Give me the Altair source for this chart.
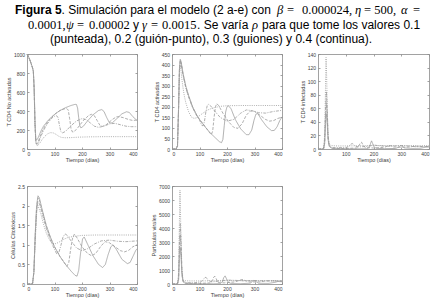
import altair as alt
import pandas as pd

W, H = 438, 305
RHO = ["0.1", "0.2", "0.3", "0.4"]
DASH = [[1, 1.2], [3, 1.2, 1, 1.2], [3, 1.5], [1, 0]]
XTICKS = [0, 100, 200, 300, 400]
SANS = "Liberation Sans"
SERIF = "Liberation Serif"
LINE = "#9a9a9a"
FRAME = "#8a8a8a"
TXT = "#404040"

# ---------------- Panel 1: T CD4 No activadas ----------------
P1_T = {
    "0.4": [0,5,10,15,20,23,26,29,32,35,40,50,60,75,90,105,120,140,160,175,180,184,188,192,196,205,220,240,260,272,280,290,300,310,325,345,362,372,385,400],
    "0.3": [0,5,10,15,20,23,26,29,32,36,40,50,60,75,90,105,120,135,145,150,155,160,165,170,185,205,225,235,245,255,265,275,290,310,325,335,350,370,385,400],
    "0.2": [0,5,10,15,20,23,26,29,32,36,40,50,60,75,90,100,108,113,118,123,128,140,160,180,200,215,230,245,260,280,300,320,340,360,380,400],
    "0.1": [0,5,10,15,20,23,26,29,33,38,45,55,65,75,85,95,105,115,125,140,160,190,230,280,340,400],
}
P1_V = {
    "0.4": [1000,975,940,900,855,820,650,300,95,95,115,185,240,295,340,375,405,435,458,470,468,430,330,245,222,240,295,360,405,415,395,330,275,275,315,370,392,385,340,300],
    "0.3": [1000,975,940,900,855,820,640,280,80,55,70,150,215,285,335,375,405,422,425,410,320,215,180,178,225,300,355,365,350,300,250,238,260,310,338,340,330,310,300,305],
    "0.2": [1000,975,940,900,855,820,630,260,70,45,55,130,195,270,325,345,350,330,250,185,168,185,245,295,320,310,275,240,228,240,265,270,255,240,235,235],
    "0.1": [1000,975,940,900,855,820,620,240,60,35,55,100,135,160,172,170,155,135,122,118,120,125,128,130,130,130],
}

# ---------------- Panel 2: T CD4 activadas ----------------
P2_T = {
    "0.4": [0,15,20,24,27,30,33,40,50,60,75,90,100,120,140,160,172,180,185,190,195,200,205,215,230,250,270,280,290,298,305,312,325,345,362,372,382,392,400],
    "0.3": [0,15,20,24,27,30,33,40,50,60,75,90,100,120,135,143,148,153,158,163,170,185,205,225,240,255,270,285,300,320,340,355,370,385,400],
    "0.2": [0,15,20,24,27,30,33,40,50,60,75,90,100,108,113,118,123,128,133,140,155,175,200,225,250,270,290,315,340,370,400],
    "0.1": [0,15,20,24,27,29,32,36,40,45,50,60,70,80,90,100,115,130,150,175,200,250,300,350,400],
}
P2_V = {
    "0.4": [0,0,15,200,380,425,415,360,300,255,200,160,140,105,75,50,35,30,45,110,175,200,205,190,140,95,68,68,90,135,165,168,140,105,87,88,105,135,152],
    "0.3": [0,0,15,200,375,420,410,355,295,252,198,160,140,108,80,68,85,150,200,215,205,170,130,102,98,120,160,180,178,160,140,132,135,145,150],
    "0.2": [0,0,15,195,370,415,405,350,290,248,195,158,138,112,110,130,175,205,212,205,180,150,132,140,170,185,182,172,170,178,183],
    "0.1": [0,0,15,190,360,400,380,330,290,250,220,178,152,145,148,158,172,185,195,202,205,206,206,206,206],
}

# ---------------- Panel 3: T CD4 infectadas ----------------
P3_T = {
    "0.4": [0,20,24,27,30,33,36,40,50,100,150,180,186,190,193,197,202,210,240,280,292,298,304,312,340,370,380,390,400],
    "0.3": [0,20,24,27,30,33,36,40,50,100,140,148,153,157,162,170,200,240,255,262,270,300,330,345,355,370,400],
    "0.2": [0,20,24,27,30,33,36,40,50,100,112,118,123,128,135,150,180,200,215,250,280,300,320,350,400],
    "0.1": [0,20,24,27,29,31,34,37,42,50,70,100,150,200,300,400],
}
P3_V = {
    "0.4": [0,0,8,35,52,40,15,4,1,0.3,0.3,0.5,3,9,12,8,3,1,0.5,0.8,3,5,4,1.5,0.8,1,2,3,3],
    "0.3": [0,0,10,45,68,50,18,5,1,0.8,1.5,5,9,10,6,2,1.5,2.5,5,5,3,2.5,3,4,4,3.5,3.5],
    "0.2": [0,0,12,55,85,62,22,6,2,2,4,7,8,7,4,3,4,6,5,4,4.5,5,4.5,3.5,3.5],
    "0.1": [0,0,20,90,135,110,50,15,6,5,4.5,4.5,4.8,5,5,5],
}

# ---------------- Panel 4: Celulas Citotoxicas ----------------
P4_T = {
    "0.4": [0,20,25,30,35,40,45,55,70,85,100,120,140,160,175,182,188,195,202,208,220,240,260,275,285,295,305,313,325,345,365,375,385,395,400],
    "0.3": [0,20,25,30,35,40,45,55,70,85,100,120,135,145,152,158,165,172,180,200,220,235,250,270,285,300,320,340,355,370,385,400],
    "0.2": [0,20,25,30,35,40,45,55,70,85,100,108,115,122,130,138,145,160,180,200,220,245,270,300,330,360,400],
    "0.1": [0,20,25,30,35,40,50,60,70,80,90,100,115,130,150,175,200,250,300,400],
}
P4_V = {
    "0.4": [0,0,0.3,1.3,2.0,2.25,2.2,1.9,1.5,1.2,0.95,0.7,0.5,0.33,0.22,0.2,0.35,0.8,1.15,1.2,1.02,0.72,0.5,0.42,0.5,0.75,0.95,1.0,0.88,0.63,0.52,0.55,0.7,0.85,0.9],
    "0.3": [0,0,0.3,1.25,1.95,2.2,2.15,1.87,1.48,1.18,0.95,0.7,0.55,0.45,0.55,0.85,1.15,1.27,1.2,0.95,0.78,0.72,0.78,0.98,1.08,1.05,0.95,0.85,0.82,0.86,0.95,1.0],
    "0.2": [0,0,0.3,1.2,1.9,2.1,2.05,1.8,1.42,1.12,0.88,0.77,0.78,0.95,1.18,1.28,1.25,1.1,0.92,0.85,0.9,1.02,1.1,1.12,1.09,1.08,1.1],
    "0.1": [0,0,0.3,1.1,1.8,2.0,1.8,1.52,1.3,1.15,1.05,1.02,1.06,1.13,1.19,1.22,1.24,1.25,1.25,1.25],
}

# ---------------- Panel 5: Particulas virales ----------------
P5_T = {
    "0.4": [0,20,24,27,30,33,36,40,50,100,150,175,183,188,193,198,205,215,250,285,293,298,305,315,350,375,385,400],
    "0.3": [0,20,24,27,30,33,36,40,50,100,140,148,152,156,160,168,190,230,250,258,265,280,320,340,360,400],
    "0.2": [0,20,24,27,30,33,36,40,50,80,105,115,120,125,132,145,170,200,230,260,300,340,400],
    "0.1": [0,20,24,27,29,31,34,37,42,50,70,100,150,200,300,400],
}
P5_V = {
    "0.4": [0,0,300,1800,2600,1900,700,150,30,10,10,20,150,450,580,380,120,30,20,60,200,260,180,50,40,120,180,160],
    "0.3": [0,0,400,2400,3500,2600,900,200,60,40,80,300,500,550,400,100,80,150,300,320,250,150,150,220,230,200],
    "0.2": [0,0,500,3000,4300,3100,1100,250,100,80,150,350,480,450,250,150,200,280,260,230,250,220,220],
    "0.1": [0,0,800,4500,6700,5000,1800,500,250,230,220,220,230,240,240,240],
}

Y_TITLES = ["T CD4 No activadas", "T CD4 activadas", "T CD4 infectadas",
            "Células Citotóxicas", "Partículas virales"]
Y_DOMAINS = [[0, 1000], [0, 450], [0, 140], [0, 2.5], [0, 7000]]
Y_TICKS = [
    [0, 200, 400, 600, 800, 1000],
    [0, 50, 100, 150, 200, 250, 300, 350, 400, 450],
    [0, 20, 40, 60, 80, 100, 120, 140],
    [0, 0.5, 1, 1.5, 2, 2.5],
    [0, 1000, 2000, 3000, 4000, 5000, 6000, 7000],
]
Y_FORMATS = ["d", "d", "d", "~g", "d"]

# plot-area boxes (left, top, width, height) in pixels
BOXES = [(27, 54, 110, 95), (172, 54, 110, 95), (318, 54, 111, 95),
         (27, 186, 110, 98), (172, 186, 110, 98)]

SERIES = [(P1_T, P1_V), (P2_T, P2_V), (P3_T, P3_V), (P4_T, P4_V), (P5_T, P5_V)]

COMMON = dict(grid=False, domainColor=FRAME, tickColor=FRAME, domainWidth=0.8,
              tickWidth=0.8, tickSize={"expr": "-2"}, labelFont=SANS,
              labelFontSize=5, labelColor=TXT, titleFont=SANS, titleFontSize=5.5,
              titleColor=TXT, titleFontWeight="normal", labelOverlap=False)


def panel(i):
    ts, vs = SERIES[i]
    rows = []
    for r in RHO:
        rows.append(pd.DataFrame({"t": ts[r], "v": vs[r], "rho": r}))
    df = pd.concat(rows, ignore_index=True)
    px, py, pw, ph = BOXES[i]
    xs = alt.Scale(domain=[0, 400], range=[px, px + pw], nice=False, zero=False)
    ys = alt.Scale(domain=Y_DOMAINS[i], range=[py + ph, py], nice=False, zero=False)
    lines = alt.Chart(df).mark_line(color=LINE, strokeWidth=0.8).encode(
        x=alt.X("t:Q", scale=xs, axis=alt.Axis(
            orient="bottom", offset=(py + ph) - H, values=XTICKS, format="d",
            title="Tiempo (días)", labelPadding=4, titlePadding=1, **COMMON)),
        y=alt.Y("v:Q", scale=ys, axis=alt.Axis(
            orient="left", offset=-px, values=Y_TICKS[i], format=Y_FORMATS[i],
            title=Y_TITLES[i], labelPadding=4.5, titlePadding=2, **COMMON)),
        strokeDash=alt.StrokeDash("rho:N", scale=alt.Scale(domain=RHO, range=DASH),
                                  legend=None),
    )
    fdf = pd.DataFrame({"t": [0, 400], "v": Y_DOMAINS[i]})
    frame = alt.Chart(fdf).mark_point(opacity=0).encode(
        x=alt.X("t:Q", scale=xs, axis=alt.Axis(
            orient="top", offset=-py, values=XTICKS, labels=False, title=None, **COMMON)),
        y=alt.Y("v:Q", scale=ys, axis=alt.Axis(
            orient="right", offset=(px + pw) - W, values=Y_TICKS[i], labels=False,
            title=None, **COMMON)),
    )
    return [lines, frame]


DUMMY = pd.DataFrame({"k": [0]})


def txt(s, x, y, font=SANS, size=12, weight="normal", style="normal", align="left"):
    return alt.Chart(DUMMY).mark_text(
        text=s, font=font, fontSize=size, fontWeight=weight, fontStyle=style,
        align=align, baseline="alphabetic", color="black"
    ).encode(x=alt.value(x), y=alt.value(y))


L1, L2, L3 = 14, 28.5, 43
title_layers = [
    txt("Figura 5", 15, L1, weight="bold"),
    txt(". Simulación para el modelo (2 a-e) con", 61.5, L1),
    txt("β", 277, L1, font=SERIF, style="italic", size=12.5),
    txt("=", 287, L1, font=SERIF, size=12.5),
    txt("0.000024,", 302, L1, font=SERIF, size=12.5),
    txt("η", 355, L1, font=SERIF, style="italic", size=12.5),
    txt("= 500,", 364, L1, font=SERIF, size=12.5),
    txt("α", 401, L1, font=SERIF, style="italic", size=12.5),
    txt("=", 413, L1, font=SERIF, size=12.5),
    txt("0.0001,", 28, L2, font=SERIF, size=12.5),
    txt("ψ", 66, L2, font=SERIF, style="italic", size=12.5),
    txt("=", 77, L2, font=SERIF, size=12.5),
    txt("0.00002", 89, L2, font=SERIF, size=12.5),
    txt("y", 133, L2),
    txt("γ", 142, L2, font=SERIF, style="italic", size=12.5),
    txt("=", 151, L2, font=SERIF, size=12.5),
    txt("0.0015", 162, L2, font=SERIF, size=12.5),
    txt(". Se varía", 197, L2),
    txt("ρ", 252, L2, font=SERIF, style="italic", size=12.5),
    txt("para que tome los valores 0.1", 262, L2),
    txt("(punteada), 0.2 (guión-punto), 0.3 (guiones) y 0.4 (continua).", 211, L3,
        align="center"),
]

layers = []
for i in range(5):
    layers += panel(i)
layers += title_layers

chart = alt.layer(*layers).resolve_scale(
    x="independent", y="independent"
).resolve_axis(
    x="independent", y="independent"
).properties(
    width=W, height=H, padding=0, autosize=alt.AutoSizeParams(type="none")
).configure_view(strokeWidth=0)

chart.save("out.html", embed_options={"renderer": "svg", "actions": False})
